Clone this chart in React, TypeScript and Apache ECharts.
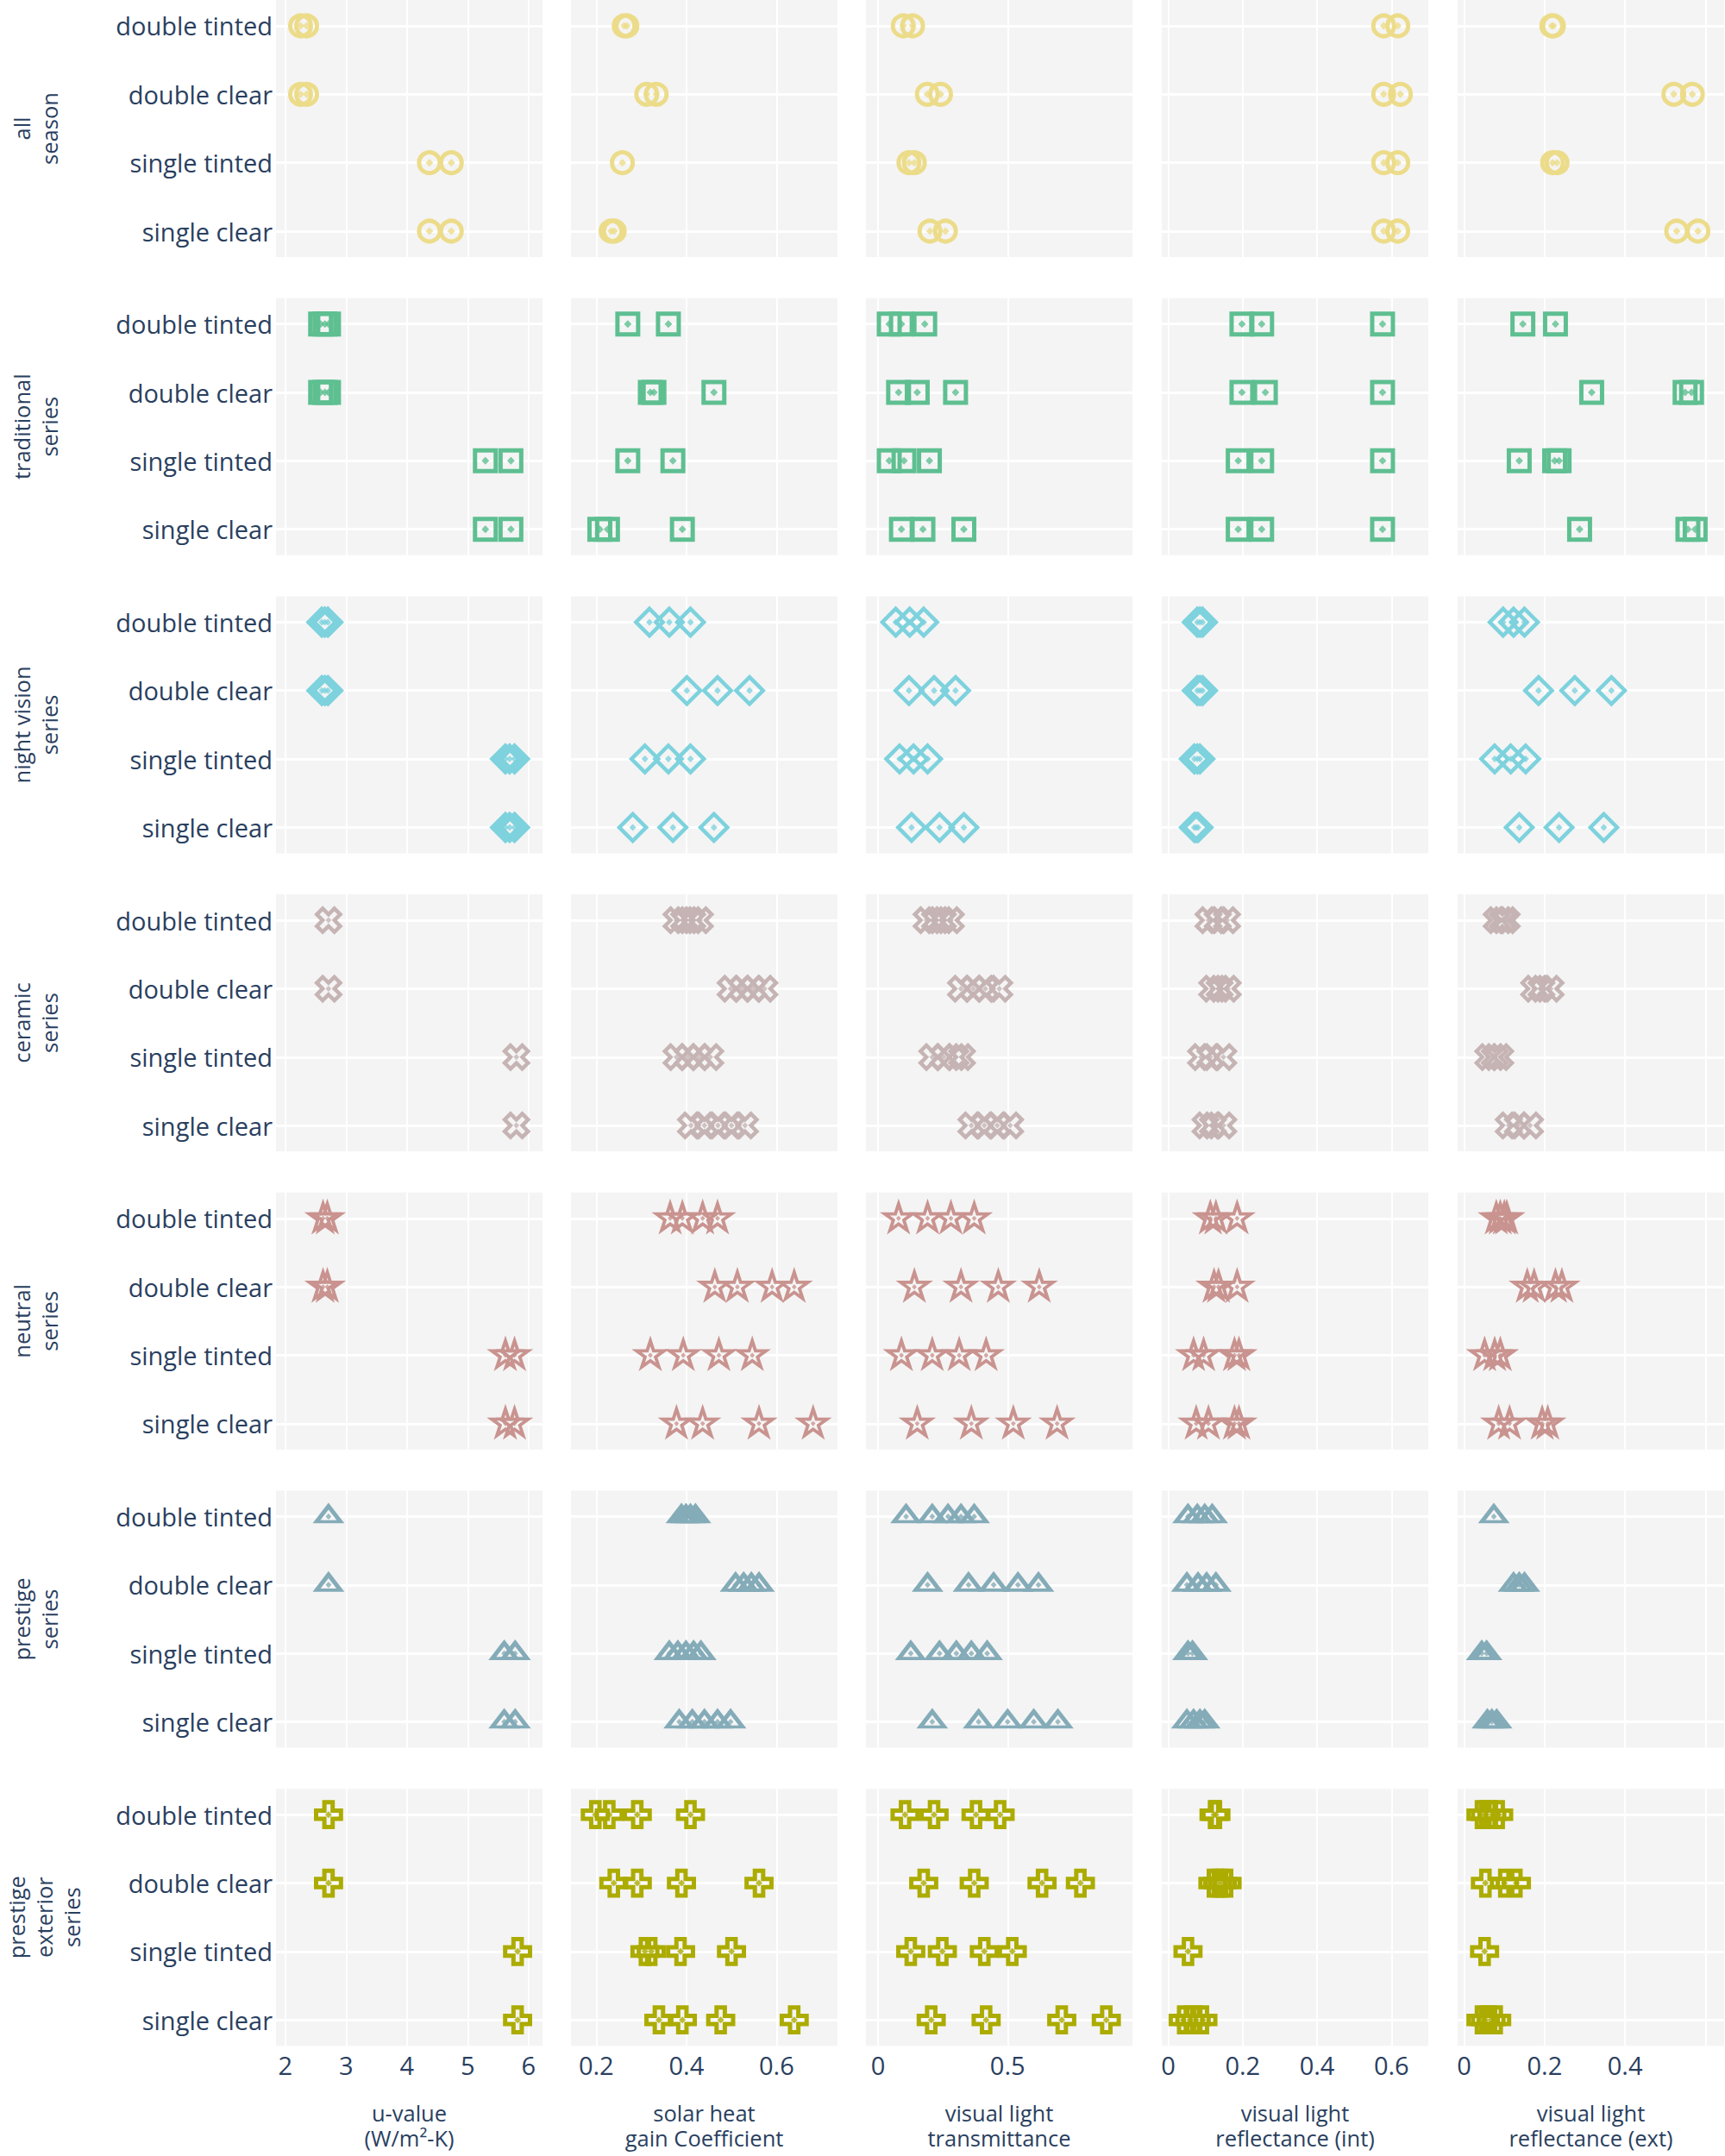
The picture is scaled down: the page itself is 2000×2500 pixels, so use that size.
import React, { useEffect, useRef } from 'react';
import * as echarts from 'echarts';

// ---------- categories & titles ----------
const categories = ['single clear', 'single tinted', 'double clear', 'double tinted'];
const rowTitles = [
  'all\nseason',
  'traditional\nseries',
  'night vision\nseries',
  'ceramic\nseries',
  'neutral\nseries',
  'prestige\nseries',
  'prestige\nexterior\nseries',
];
const colTitles = [
  'u-value\n(W/m²-K)',
  'solar heat\ngain Coefficient',
  'visual light\ntransmittance',
  'visual light\nreflectance (int)',
  'visual light\nreflectance (ext)',
];
const rowColors = ['#ecdc8a', '#5ebf91', '#7dd2dd', '#c6b4b4', '#c9938f', '#84abb8', '#abab00'];

// x tick values (grid) and shown tick labels per column
const xGridTicks = [[2, 3, 4, 5, 6], [0.2, 0.4, 0.6], [0, 0.5], [0, 0.2, 0.4, 0.6], [0, 0.2, 0.4, 0.6]];
const xLabelTicks = [[2, 3, 4, 5, 6], [0.2, 0.4, 0.6], [0, 0.5], [0, 0.2, 0.4, 0.6], [0, 0.2, 0.4]];
const xMin = [1.846, 0.144, -0.047, -0.0175, -0.016];
const xMax = [6.23, 0.735, 0.982, 0.699, 0.646];

// ---------- data (per category: single clear, single tinted, double clear, double tinted) ----------
const allSeasonU = [[4.37, 4.73], [4.37, 4.73], [2.25, 2.35], [2.25, 2.35]];
const allSeasonShgc = [[0.233, 0.24], [0.258], [0.312, 0.333], [0.262, 0.268]];
const allSeasonVlt = [[0.2, 0.26], [0.119, 0.14], [0.19, 0.241], [0.097, 0.133]];
const allSeasonVlrInt = [[0.579, 0.617], [0.579, 0.617], [0.579, 0.624], [0.579, 0.617]];
const allSeasonVlrExt = [[0.528, 0.581], [0.22, 0.231], [0.521, 0.567], [0.218, 0.222]];

const traditionalU = [[5.29, 5.71], [5.29, 5.71], [2.58, 2.65, 2.71], [2.58, 2.65, 2.71]];
const traditionalShgc = [[0.208, 0.225, 0.391], [0.27, 0.37], [0.32, 0.328, 0.461], [0.27, 0.36]];
const traditionalVlt = [[0.09, 0.173, 0.331], [0.043, 0.1, 0.198], [0.079, 0.151, 0.299], [0.043, 0.09, 0.18]];
const traditionalVlrInt = [[0.188, 0.251, 0.576], [0.188, 0.251, 0.576], [0.198, 0.261, 0.576], [0.198, 0.251, 0.576]];
const traditionalVlrExt = [[0.287, 0.556, 0.574], [0.137, 0.225, 0.236], [0.317, 0.549, 0.565], [0.146, 0.227]];

const nightVisionU = [[5.62, 5.69, 5.77], [5.62, 5.69, 5.77], [2.6, 2.65, 2.7], [2.6, 2.65, 2.7]];
const nightVisionShgc = [[0.281, 0.37, 0.461], [0.308, 0.36, 0.409], [0.401, 0.469, 0.54], [0.318, 0.362, 0.409]];
const nightVisionVlt = [[0.129, 0.237, 0.331], [0.083, 0.137, 0.191], [0.119, 0.216, 0.299], [0.068, 0.122, 0.176]];
const nightVisionVlrInt = [[0.07, 0.075, 0.08], [0.07, 0.078, 0.085], [0.078, 0.085, 0.092], [0.078, 0.085, 0.092]];
const nightVisionVlrExt = [[0.137, 0.236, 0.347], [0.076, 0.116, 0.153], [0.185, 0.275, 0.366], [0.097, 0.123, 0.15]];

const ceramicU = [[5.8], [5.8], [2.71], [2.71]];
const ceramicShgc = [[0.41, 0.44, 0.47, 0.5, 0.53], [0.378, 0.403, 0.428, 0.453], [0.498, 0.523, 0.548, 0.573], [0.378, 0.395, 0.413, 0.43]];
const ceramicVlt = [[0.36, 0.41, 0.46, 0.51], [0.209, 0.252, 0.299, 0.324], [0.32, 0.367, 0.414, 0.468], [0.187, 0.22, 0.25, 0.281]];
const ceramicVlrInt = [[0.1, 0.12, 0.148], [0.088, 0.113, 0.148], [0.118, 0.138, 0.16], [0.108, 0.133, 0.158]];
const ceramicVlrExt = [[0.111, 0.134, 0.164], [0.06, 0.076, 0.09], [0.174, 0.192, 0.215], [0.081, 0.095, 0.106]];

const neutralU = [[5.62, 5.77], [5.62, 5.77], [2.62, 2.69], [2.62, 2.69]];
const neutralShgc = [[0.378, 0.436, 0.561, 0.681], [0.32, 0.393, 0.472, 0.546], [0.463, 0.513, 0.59, 0.639], [0.364, 0.391, 0.436, 0.469]];
const neutralVlt = [[0.151, 0.36, 0.522, 0.691], [0.09, 0.209, 0.313, 0.417], [0.14, 0.32, 0.464, 0.622], [0.079, 0.191, 0.281, 0.371]];
const neutralVlrInt = [[0.075, 0.108, 0.178, 0.19], [0.068, 0.095, 0.178, 0.19], [0.123, 0.135, 0.185], [0.113, 0.128, 0.185]];
const neutralVlrExt = [[0.086, 0.113, 0.194, 0.208], [0.051, 0.076, 0.09], [0.157, 0.174, 0.227, 0.243], [0.08, 0.09, 0.1, 0.106]];

const prestigeU = [[5.6, 5.78], [5.6, 5.78], [2.71], [2.71]];
const prestigeShgc = [[0.384, 0.413, 0.44, 0.469, 0.498], [0.362, 0.381, 0.399, 0.416, 0.432], [0.509, 0.527, 0.544, 0.561], [0.389, 0.399, 0.409, 0.42]];
const prestigeVlt = [[0.209, 0.388, 0.5, 0.601, 0.694], [0.126, 0.237, 0.302, 0.36, 0.421], [0.191, 0.349, 0.446, 0.54, 0.619], [0.108, 0.209, 0.27, 0.32, 0.371]];
const prestigeVlrInt = [[0.05, 0.068, 0.085, 0.098], [0.053, 0.065], [0.05, 0.08, 0.103, 0.128], [0.053, 0.078, 0.098, 0.118]];
const prestigeVlrExt = [[0.058, 0.069, 0.081], [0.044, 0.056], [0.123, 0.137, 0.15], [0.074]];

const prestigeExteriorU = [[5.82], [5.82], [2.71], [2.71]];
const prestigeExteriorShgc = [[0.339, 0.391, 0.476, 0.639], [0.308, 0.322, 0.387, 0.5], [0.239, 0.291, 0.389, 0.561], [0.198, 0.229, 0.291, 0.409]];
const prestigeExteriorVlt = [[0.205, 0.417, 0.709, 0.881], [0.126, 0.248, 0.41, 0.518], [0.176, 0.371, 0.633, 0.781], [0.104, 0.216, 0.378, 0.471]];
const prestigeExteriorVlrInt = [[0.04, 0.058, 0.075, 0.093], [0.053], [0.12, 0.133, 0.145, 0.158], [0.123, 0.128]];
const prestigeExteriorVlrExt = [[0.042, 0.053, 0.067, 0.081], [0.051], [0.053, 0.1, 0.13], [0.042, 0.053, 0.069, 0.086]];

const rowData = [
  [allSeasonU, allSeasonShgc, allSeasonVlt, allSeasonVlrInt, allSeasonVlrExt],
  [traditionalU, traditionalShgc, traditionalVlt, traditionalVlrInt, traditionalVlrExt],
  [nightVisionU, nightVisionShgc, nightVisionVlt, nightVisionVlrInt, nightVisionVlrExt],
  [ceramicU, ceramicShgc, ceramicVlt, ceramicVlrInt, ceramicVlrExt],
  [neutralU, neutralShgc, neutralVlt, neutralVlrInt, neutralVlrExt],
  [prestigeU, prestigeShgc, prestigeVlt, prestigeVlrInt, prestigeVlrExt],
  [prestigeExteriorU, prestigeExteriorShgc, prestigeExteriorVlt, prestigeExteriorVlrInt, prestigeExteriorVlrExt],
];

// ---------- marker shapes (plotly-like, r = 12) ----------
const R = 12;
const rx = 6.79;
const xPath =
  `path://M0,${rx}L${rx},${2 * rx}L${2 * rx},${rx}L${rx},0L${2 * rx},${-rx}L${rx},${-2 * rx}` +
  `L0,${-rx}L${-rx},${-2 * rx}L${-2 * rx},${-rx}L${-rx},0L${-2 * rx},${rx}L${-rx},${2 * rx}Z`;
const starPath =
  'path://M3.78,-5.19H15.98L6.1,1.98L9.88,13.59L0,6.42L-9.88,13.59L-6.1,1.98L-15.98,-5.19H-3.78L0,-16.8Z';
const crossPath =
  'path://M14.4,4.8H4.8V14.4H-4.8V4.8H-14.4V-4.8H-4.8V-14.4H4.8V-4.8H14.4Z';

const rowSymbols: any[] = [
  { symbol: 'circle', size: 2 * R, offset: [0, 0], lw: 5, dot: 9 },
  { symbol: 'rect', size: 2 * R, offset: [0, 0], lw: 5, dot: 9 },
  { symbol: 'diamond', size: 2.6 * R, offset: [0, 0], lw: 4.5, dot: 8 },
  { symbol: xPath, size: 4 * rx, offset: [0, 0], lw: 4.5, dot: 7 },
  { symbol: starPath, size: [31.96, 30.39], offset: [0, -1.6], lw: 3.8, dot: 6 },
  { symbol: 'triangle', size: [27.72, 18], offset: [0, -3], lw: 4.5, dot: 7 },
  { symbol: crossPath, size: 28.8, offset: [0, 0], lw: 5, dot: 8 },
];

const TEXT = '#2a3f5f';
const FONT = 'Open Sans';

function buildOption() {
  const colLeft = [320, 662, 1004, 1347, 1690];
  const gridW = 309;
  const rowStride = 345.7;
  const gridH = 298;
  const grids: any[] = [];
  const xAxes: any[] = [];
  const yAxes: any[] = [];
  const series: any[] = [];
  const graphics: any[] = [];

  for (let r = 0; r < 7; r++) {
    const top = r * rowStride;
    for (let c = 0; c < 5; c++) {
      const idx = r * 5 + c;
      grids.push({
        left: colLeft[c],
        top,
        width: gridW,
        height: gridH,
        show: true,
        backgroundColor: '#f4f4f4',
        borderWidth: 0,
        outerBoundsMode: 'none',
      });
      xAxes.push({
        type: 'value',
        gridIndex: idx,
        min: xMin[c],
        max: xMax[c],
        axisLine: { show: false },
        axisTick: { show: false, customValues: xGridTicks[c] },
        splitLine: { show: true, lineStyle: { color: '#ffffff', width: 2 } },
        axisLabel: {
          show: r === 6,
          customValues: xLabelTicks[c],
          color: TEXT,
          fontFamily: FONT,
          fontSize: 29,
          lineHeight: 29,
          margin: 8,
        },
      });
      yAxes.push({
        type: 'value',
        gridIndex: idx,
        min: -0.378,
        max: 3.378,
        axisLine: { show: false },
        axisTick: { show: false, customValues: [0, 1, 2, 3] },
        splitLine: { show: true, lineStyle: { color: '#ffffff', width: 3 } },
        axisLabel: {
          show: c === 0,
          customValues: [0, 1, 2, 3],
          formatter: (v: number) => categories[Math.round(v)] ?? '',
          color: TEXT,
          fontFamily: FONT,
          fontSize: 29,
          margin: 4,
        },
      });
      const pts: number[][] = [];
      rowData[r][c].forEach((vals, k) => vals.forEach((v) => pts.push([v, k])));
      const sym = rowSymbols[r];
      series.push({
        type: 'scatter',
        xAxisIndex: idx,
        yAxisIndex: idx,
        data: pts,
        symbol: sym.symbol,
        symbolSize: sym.size,
        symbolOffset: sym.offset,
        silent: true,
        itemStyle: {
          color: 'rgba(0,0,0,0)',
          borderColor: rowColors[r],
          borderWidth: sym.lw,
          opacity: 1,
        },
        emphasis: { disabled: true },
      });
      series.push({
        type: 'scatter',
        xAxisIndex: idx,
        yAxisIndex: idx,
        data: pts,
        symbol: 'diamond',
        symbolSize: sym.dot,
        silent: true,
        itemStyle: { color: rowColors[r] },
        emphasis: { disabled: true },
      });
    }
    const nLines = rowTitles[r].split('\n').length;
    graphics.push({
      type: 'text',
      x: nLines === 3 ? 51 : 40.5,
      y: top + gridH / 2,
      rotation: Math.PI / 2,
      silent: true,
      style: {
        text: rowTitles[r],
        fill: TEXT,
        fontFamily: FONT,
        fontSize: 25.5,
        lineHeight: 32,
        align: 'center',
        verticalAlign: 'middle',
      },
    });
  }

  for (let c = 0; c < 5; c++) {
    graphics.push({
      type: 'text',
      x: colLeft[c] + gridW / 2,
      y: 2464,
      silent: true,
      style: {
        text: colTitles[c],
        fill: TEXT,
        fontFamily: FONT,
        fontSize: 25.5,
        lineHeight: 29,
        align: 'center',
        verticalAlign: 'middle',
      },
    });
  }

  return {
    animation: false,
    backgroundColor: '#ffffff',
    textStyle: { fontFamily: FONT },
    grid: grids,
    xAxis: xAxes,
    yAxis: yAxes,
    series,
    graphic: graphics,
  };
}

export default function App() {
  const ref = useRef<HTMLDivElement>(null);
  useEffect(() => {
    if (!ref.current) return;
    const chart = echarts.init(ref.current, null, { renderer: 'svg' });
    chart.setOption(buildOption() as any);
    return () => chart.dispose();
  }, []);
  return (
    <div
      ref={ref}
      style={{ position: 'absolute', left: 0, top: 0, width: 2000, height: 2500, background: '#ffffff' }}
    />
  );
}
